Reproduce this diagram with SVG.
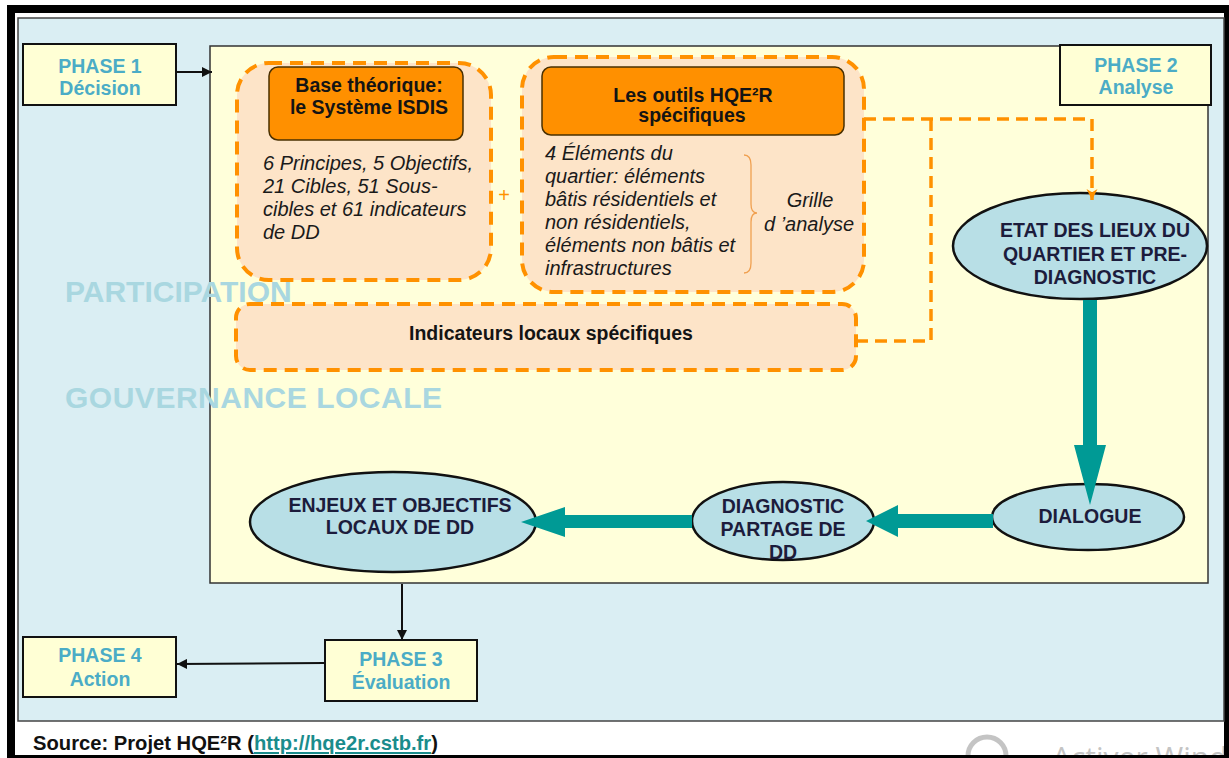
<svg xmlns="http://www.w3.org/2000/svg" width="1229" height="758" viewBox="0 0 1229 758">
<style>
.ph{font-family:"Liberation Sans",Arial,sans-serif;font-weight:bold;font-size:19.5px;fill:#4BACC6;text-anchor:middle}
.phbox{fill:#FFFFD5;stroke:#111;stroke-width:2}
.dash{fill:#FDE4C8;stroke:#FF9100;stroke-width:4;stroke-dasharray:13 8}
.ob{fill:#FF9000;stroke:#4a3000;stroke-width:1.5}
.bt{font-family:"Liberation Sans",Arial,sans-serif;font-weight:bold;font-size:19.5px;fill:#141414;text-anchor:middle}
.it{font-family:"Liberation Sans",Arial,sans-serif;font-style:italic;font-size:20px;fill:#1a1a1a}
.el{fill:#B8DFE6;stroke:#111;stroke-width:2.5}
.et{font-family:"Liberation Sans",Arial,sans-serif;font-weight:bold;font-size:19.5px;fill:#1C1C3C;text-anchor:middle}
.wm{font-family:"Liberation Sans",Arial,sans-serif;font-weight:bold;font-size:30px;fill:#A9D7E0}
.teal{fill:#009A95}
.od{fill:none;stroke:#FF9100;stroke-width:3.5;stroke-dasharray:12 7}
.bk{fill:none;stroke:#111;stroke-width:2}
</style>
<defs>
<marker id="ah" viewBox="0 0 10 10" refX="10" refY="5" markerWidth="10" markerHeight="10" markerUnits="userSpaceOnUse" orient="auto">
<path d="M0,0 L10,5 L0,10 z" fill="#111"/>
</marker>
<marker id="oh" viewBox="0 0 10 10" refX="10" refY="5" markerWidth="11" markerHeight="12" markerUnits="userSpaceOnUse" orient="auto">
<path d="M0,0 L10,5 L0,10 L3,5 z" fill="#FF9100"/>
</marker>
</defs>
<rect x="0" y="0" width="1229" height="758" fill="#fff"/>
<!-- watermark behind frame -->
<circle cx="987" cy="756" r="19" fill="none" stroke="#C4C4C4" stroke-width="5"/>
<text x="1052" y="768" font-family="'Open Sans','Liberation Sans',sans-serif" font-size="30" fill="#C4C4C4">Activer Windows</text>
<!-- frame -->
<path d="M7,5 H1229 V758 H7 Z M15,13 V755 H1224 V13 Z" fill="#000" fill-rule="evenodd"/>
<rect x="18" y="18" width="1206" height="703" fill="#DAEEF3" stroke="#444" stroke-width="1.5"/>
<rect x="210" y="46" width="998" height="537" fill="#FFFFDA" stroke="#333" stroke-width="1.5"/>

<g id="phase1">
<rect class="phbox" x="23" y="44" width="153" height="61"/>
<text class="ph" x="100" y="73">PHASE 1</text>
<text class="ph" x="100" y="95">Décision</text>
</g>
<g id="phase2">
<rect class="phbox" x="1060" y="45" width="151" height="60"/>
<text class="ph" x="1136" y="72">PHASE 2</text>
<text class="ph" x="1136" y="94">Analyse</text>
</g>
<g id="phase3">
<rect class="phbox" x="325" y="640" width="152" height="61"/>
<text class="ph" x="401" y="666">PHASE 3</text>
<text class="ph" x="401" y="689">Évaluation</text>
</g>
<g id="phase4">
<rect class="phbox" x="23" y="637" width="153" height="60"/>
<text class="ph" x="100" y="662">PHASE 4</text>
<text class="ph" x="100" y="686">Action</text>
</g>

<g id="base">
<rect class="dash" x="237" y="63" width="254" height="217" rx="32"/>
<rect class="ob" x="269" y="67" width="194" height="73" rx="9"/>
<text class="bt" x="369" y="92">Base théorique:</text>
<text class="bt" x="369" y="114">le Système ISDIS</text>
<text class="it" x="263" y="170">6 Principes, 5 Objectifs,</text>
<text class="it" x="263" y="193">21 Cibles, 51 Sous-</text>
<text class="it" x="263" y="216">cibles et 61 indicateurs</text>
<text class="it" x="263" y="239">de DD</text>
</g>
<text id="plus" x="504" y="202" font-family="'Liberation Sans',Arial,sans-serif" font-size="20" fill="#FF9100" text-anchor="middle">+</text>

<g id="outils">
<rect class="dash" x="522" y="57" width="342" height="235" rx="32"/>
<rect class="ob" x="542" y="67" width="302" height="68" rx="9"/>
<text class="bt" x="693" y="102">Les outils HQE²R</text>
<text class="bt" x="692" y="122">spécifiques</text>
<text class="it" x="545" y="160">4 Éléments du</text>
<text class="it" x="545" y="183">quartier: éléments</text>
<text class="it" x="545" y="206">bâtis résidentiels et</text>
<text class="it" x="545" y="229">non résidentiels,</text>
<text class="it" x="545" y="252">éléments non bâtis et</text>
<text class="it" x="545" y="275">infrastructures</text>
<path d="M744,155 Q751,155 751,165 V204 Q751,213 757,213 Q751,213 751,222 V263 Q751,273 744,273" fill="none" stroke="#F0A050" stroke-width="1.3"/>
<text class="it" x="810" y="207" text-anchor="middle">Grille</text>
<text class="it" x="809" y="231" text-anchor="middle">d ’analyse</text>
</g>

<g id="indicateurs">
<rect class="dash" x="236" y="304" width="620" height="66" rx="14"/>
<text class="bt" x="551" y="340">Indicateurs locaux spécifiques</text>
</g>

<g id="etat">
<ellipse class="el" cx="1080" cy="246" rx="127" ry="53"/>
<text class="et" x="1095" y="237">ETAT DES LIEUX DU</text>
<text class="et" x="1095" y="261">QUARTIER ET PRE-</text>
<text class="et" x="1095" y="284">DIAGNOSTIC</text>
</g>
<g id="dialogue">
<ellipse class="el" cx="1088" cy="517" rx="96" ry="33"/>
<text class="et" x="1090" y="523">DIALOGUE</text>
</g>
<g id="diagnostic">
<ellipse class="el" cx="783" cy="521" rx="91" ry="39"/>
<text class="et" x="783" y="513">DIAGNOSTIC</text>
<text class="et" x="783" y="536">PARTAGE DE</text>
<text class="et" x="783" y="559">DD</text>
</g>
<g id="enjeux">
<ellipse class="el" cx="393" cy="522" rx="143" ry="50"/>
<text class="et" x="400" y="512">ENJEUX ET OBJECTIFS</text>
<text class="et" x="400" y="534">LOCAUX DE DD</text>
</g>

<g id="connectors">
<line class="bk" x1="176" y1="72" x2="212" y2="72" marker-end="url(#ah)"/>
<line class="bk" x1="402" y1="584" x2="402" y2="640" marker-end="url(#ah)"/>
<line class="bk" x1="324" y1="663" x2="177" y2="664" marker-end="url(#ah)"/>
<path class="od" d="M864,119 H1092 V200" marker-end="url(#oh)"/>
<path class="od" d="M931,119 V341 H856"/>
<polygon class="teal" points="1083,300 1097,300 1097,445 1106,445 1090,505 1074,445 1083,445"/>
<polygon class="teal" points="993,514 993,528 898,528 898,537 866,521 898,505 898,514"/>
<polygon class="teal" points="692,515 692,528 565,528 565,537 521,522 565,507 565,515"/>
</g>

<text class="wm" x="65" y="302">PARTICIPATION</text>
<text class="wm" x="65" y="408" textLength="377" lengthAdjust="spacing">GOUVERNANCE  LOCALE</text>

<text x="33" y="750" font-family="'Liberation Sans',Arial,sans-serif" font-weight="bold" font-size="20.2" fill="#111">Source: Projet HQE²R (<tspan fill="#1A8C8C" text-decoration="underline">http://hqe2r.cstb.fr</tspan>)</text>
</svg>
